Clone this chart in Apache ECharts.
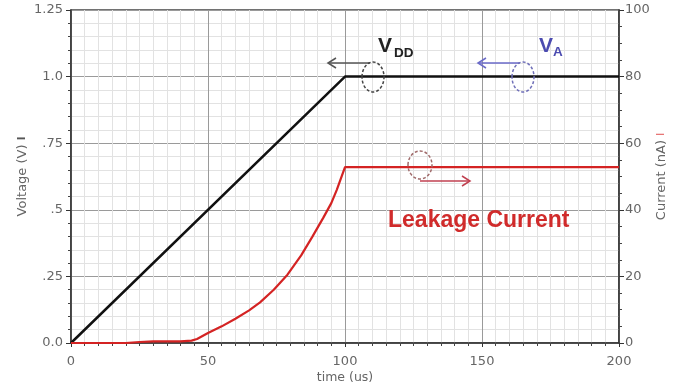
<!DOCTYPE html>
<html><head><meta charset="utf-8">
<script src="https://cdn.jsdelivr.net/npm/echarts@6/dist/echarts.min.js"></script>
<style>html,body{margin:0;padding:0;background:#fff}#c{width:686px;height:390px}</style>
</head><body><div id="c"></div>
<script>
// time (us) and values
var vddTime = [0, 100, 200];
var vddVolt = [0, 1.0, 1.0];
var curTime = [0, 10, 20, 25, 30, 40, 44, 46, 50, 55, 60, 65, 69, 74, 79, 84, 88, 92, 95, 97, 100, 150, 200];
var curNA   = [0, 0, 0, 0.3, 0.5, 0.5, 0.7, 1.2, 3, 5, 7.3, 9.8, 12.2, 16, 20.5, 26.3, 31.8, 37.5, 42, 46, 52.8, 52.8, 52.8];
var xTicks = [0, 50, 100, 150, 200];
var leftTickLabels = ['0.0', '.25', '.5', '.75', '1.0', '1.25'];
var rightTickLabels = ['0', '20', '40', '60', '80', '100'];

function pairs(a, b) { return a.map(function (v, i) { return [v, b[i]]; }); }

var chart = echarts.init(document.getElementById('c'), null, {renderer: 'canvas'});
var font = 'DejaVu Sans, sans-serif';
var gray = '#666';
var option = {
  animation: false,
  backgroundColor: '#fff',
  grid: {left: 71, right: 67, top: 10, bottom: 47, show: true, borderColor: '#444', borderWidth: 1.5},
  xAxis: {
    type: 'value', min: 0, max: 200, interval: 50,
    name: 'time (us)', nameLocation: 'middle', nameGap: 28, nameMoveOverlap: false,
    nameTextStyle: {color: gray, fontFamily: font, fontSize: 12.5},
    axisLine: {show: true, lineStyle: {color: '#333', width: 1.5}},
    axisTick: {show: true, inside: false, length: 4, lineStyle: {color: '#333'}},
    minorTick: {show: true, splitNumber: 10, length: 3, lineStyle: {color: '#444'}},
    axisLabel: {color: gray, fontFamily: font, fontSize: 13, margin: 12,
      formatter: function (v) { return xTicks.indexOf(v) >= 0 ? String(v) : ''; }},
    splitLine: {show: true, lineStyle: {color: '#9a9a9a', width: 1}},
    minorSplitLine: {show: true, lineStyle: {color: '#e2e2e2', width: 1}}
  },
  yAxis: [{
    type: 'value', min: 0, max: 1.25, interval: 0.25,
    name: 'Voltage (V) {m|I}', nameLocation: 'middle', nameGap: 42, nameMoveOverlap: false,
    nameTextStyle: {color: gray, fontFamily: font, fontSize: 13, rich: {m: {color: '#555', fontSize: 10, fontWeight: 'bold'}}},
    axisLine: {show: true, lineStyle: {color: '#333', width: 1.5}},
    axisTick: {show: true, length: 5, lineStyle: {color: '#333'}},
    minorTick: {show: true, splitNumber: 5, length: 3, lineStyle: {color: '#444'}},
    axisLabel: {color: gray, fontFamily: font, fontSize: 13, margin: 8,
      formatter: function (v) { return leftTickLabels[Math.round(v / 0.25)]; }},
    splitLine: {show: true, lineStyle: {color: '#9a9a9a', width: 1}},
    minorSplitLine: {show: true, lineStyle: {color: '#e2e2e2', width: 1}}
  }, {
    type: 'value', min: 0, max: 100, interval: 20, position: 'right',
    name: 'Current (nA) {r|I}', nameLocation: 'middle', nameGap: 36, nameRotate: 90, nameMoveOverlap: false,
    nameTextStyle: {color: gray, fontFamily: font, fontSize: 13, rich: {r: {color: '#e05050', fontSize: 10}}},
    axisLine: {show: true, lineStyle: {color: '#333', width: 1.5}},
    axisTick: {show: true, length: 5, lineStyle: {color: '#333'}},
    minorTick: {show: true, splitNumber: 4, length: 3, lineStyle: {color: '#444'}},
    axisLabel: {color: gray, fontFamily: font, fontSize: 13, margin: 6,
      formatter: function (v) { return rightTickLabels[Math.round(v / 20)]; }},
    splitLine: {show: false}
  }],
  series: [{
    type: 'line', name: 'VDD', yAxisIndex: 0, data: pairs(vddTime, vddVolt),
    symbol: 'none', lineStyle: {color: '#111', width: 2.5}, z: 3
  }, {
    type: 'line', name: 'Leakage', yAxisIndex: 1, data: pairs(curTime, curNA),
    symbol: 'none', lineStyle: {color: '#d42323', width: 2.2}, z: 4
  }]
};
chart.setOption(option);

function arrow(x1, x2, y, color) {
  var d = x2 < x1 ? 1 : -1;
  return [
    {type: 'line', shape: {x1: x1, y1: y, x2: x2, y2: y}, style: {stroke: color, lineWidth: 1.5}, z: 10},
    {type: 'polyline', shape: {points: [[x2 + d * 8, y - 5], [x2, y], [x2 + d * 8, y + 5]]}, style: {stroke: color, lineWidth: 1.5, fill: null}, z: 10}
  ];
}
function ell(cx, cy, rx, ry, color) {
  return {type: 'ellipse', shape: {cx: cx, cy: cy, rx: rx, ry: ry}, style: {stroke: color, lineWidth: 1.5, lineDash: [3, 2], fill: null}, z: 10};
}
var tf = 'Liberation Sans, Arial, sans-serif';
var g = [];
g = g.concat(arrow(370, 328, 63, '#555'));
g.push(ell(373, 77, 11, 15, '#444'));
g = g.concat(arrow(520, 478, 63, '#6a6ac8'));
g.push(ell(523, 77, 11, 15, '#6f6fb8'));
g.push(ell(420, 165, 12, 14, '#a06a6a'));
g = g.concat(arrow(420, 470, 181, '#c04050'));
g.push({type: 'text', x: 378, y: 46, style: {text: 'V', fontSize: 21, fontWeight: 'bold', fontFamily: tf, fill: '#222', verticalAlign: 'middle'}, z: 10});
g.push({type: 'text', x: 394, y: 53, style: {text: 'DD', fontSize: 13.5, fontWeight: 'bold', fontFamily: tf, fill: '#222', verticalAlign: 'middle'}, z: 10});
g.push({type: 'text', x: 539, y: 46, style: {text: 'V', fontSize: 21, fontWeight: 'bold', fontFamily: tf, fill: '#4b4bb0', verticalAlign: 'middle'}, z: 10});
g.push({type: 'text', x: 553, y: 52, style: {text: 'A', fontSize: 13.5, fontWeight: 'bold', fontFamily: tf, fill: '#4b4bb0', verticalAlign: 'middle'}, z: 10});
g.push({type: 'text', x: 388, y: 221, style: {text: 'Leakage Current', fontSize: 23, fontWeight: 'bold', fontFamily: tf, fill: '#d02b2b', verticalAlign: 'middle'}, z: 10});
chart.setOption({graphic: g});
</script></body></html>
